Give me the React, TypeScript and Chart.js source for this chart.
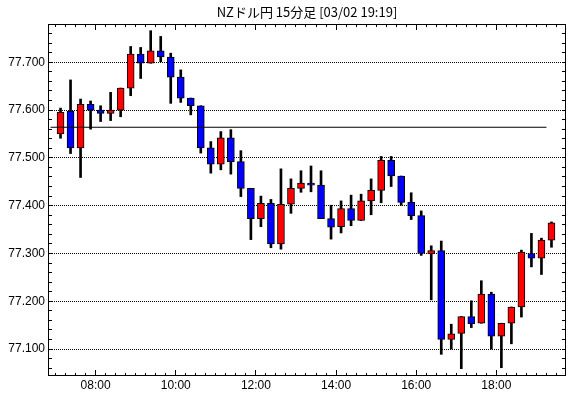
import { useEffect, useRef } from "react";
import { Chart, registerables } from "chart.js";

Chart.register(...registerables);

const TITLE = "NZドル円 15分足 [03/02 19:19]";

const times = [
  "07:00", "07:15", "07:30", "07:45", "08:00", "08:15", "08:30", "08:45", "09:00", "09:15",
  "09:30", "09:45", "10:00", "10:15", "10:30", "10:45", "11:00", "11:15", "11:30", "11:45",
  "12:00", "12:15", "12:30", "12:45", "13:00", "13:15", "13:30", "13:45", "14:00", "14:15",
  "14:30", "14:45", "15:00", "15:15", "15:30", "15:45", "16:00", "16:15", "16:30", "16:45",
  "17:00", "17:15", "17:30", "17:45", "18:00", "18:15", "18:30", "18:45", "19:00", "19:15",
];

const opens = [
  77.550, 77.598, 77.521, 77.612, 77.600, 77.593, 77.600, 77.646, 77.717, 77.698,
  77.724, 77.711, 77.669, 77.625, 77.609, 77.521, 77.487, 77.542, 77.492, 77.436,
  77.373, 77.405, 77.320, 77.403, 77.436, 77.447, 77.443, 77.373, 77.356, 77.394,
  77.369, 77.410, 77.432, 77.495, 77.462, 77.407, 77.379, 77.299, 77.306, 77.120,
  77.133, 77.168, 77.154, 77.215, 77.127, 77.154, 77.188, 77.300, 77.290, 77.328,
];
const highs = [
  77.604, 77.663, 77.623, 77.619, 77.609, 77.637, 77.646, 77.733, 77.731, 77.766,
  77.754, 77.719, 77.684, 77.625, 77.609, 77.534, 77.555, 77.559, 77.515, 77.436,
  77.420, 77.413, 77.477, 77.456, 77.473, 77.483, 77.473, 77.401, 77.410, 77.422,
  77.424, 77.456, 77.503, 77.503, 77.462, 77.427, 77.389, 77.316, 77.326, 77.152,
  77.168, 77.201, 77.243, 77.219, 77.154, 77.188, 77.307, 77.342, 77.332, 77.366,
];
const lows = [
  77.541, 77.509, 77.459, 77.560, 77.576, 77.578, 77.586, 77.630, 77.666, 77.698,
  77.701, 77.614, 77.616, 77.590, 77.510, 77.468, 77.475, 77.466, 77.419, 77.329,
  77.356, 77.312, 77.309, 77.384, 77.428, 77.429, 77.373, 77.330, 77.343, 77.358,
  77.369, 77.381, 77.406, 77.440, 77.401, 77.371, 77.296, 77.203, 77.089, 77.100,
  77.059, 77.145, 77.154, 77.100, 77.061, 77.111, 77.167, 77.272, 77.256, 77.313,
];
const closes = [
  77.595, 77.521, 77.612, 77.600, 77.593, 77.600, 77.646, 77.717, 77.698, 77.724,
  77.711, 77.669, 77.625, 77.609, 77.521, 77.487, 77.542, 77.492, 77.436, 77.373,
  77.405, 77.320, 77.403, 77.436, 77.447, 77.443, 77.373, 77.355, 77.394, 77.369,
  77.410, 77.432, 77.495, 77.462, 77.407, 77.379, 77.300, 77.306, 77.120, 77.132,
  77.168, 77.153, 77.215, 77.127, 77.154, 77.188, 77.303, 77.290, 77.328, 77.364,
];

const refLevel = 77.564;
const refStart = "07:00";
const refEnd = "19:15";

const yTickValues = [77.1, 77.2, 77.3, 77.4, 77.5, 77.6, 77.7];
const xTickLabels = ["08:00", "10:00", "12:00", "14:00", "16:00", "18:00"];

const Y_MIN = 77.0437;
const Y_MAX = 77.78;
const X_MIN = 408.75;
const X_MAX = 1184.25;
const BAR_MINUTES = 15;

const UP_COLOR = "#ff0000";
const DOWN_COLOR = "#0000ff";
const LABEL_FONT = "'Liberation Sans Narrow', 'Liberation Sans', Arial, sans-serif";
const TITLE_FONT = "'Noto Sans CJK JP', 'Noto Sans', sans-serif";

const toMin = (s: string) => {
  const [h, m] = s.split(":").map(Number);
  return h * 60 + m;
};
const fmtMin = (v: number) => {
  const h = Math.floor(v / 60);
  const m = Math.round(v - h * 60);
  return `${String(h).padStart(2, "0")}:${String(m).padStart(2, "0")}`;
};
const centerOf = (s: string) => toMin(s) + BAR_MINUTES / 2;

const framePlugin = {
  id: "frameTicks",
  afterDraw(chart: any) {
    const { ctx, chartArea: a, scales } = chart;
    ctx.save();
    ctx.strokeStyle = "#000";
    ctx.lineWidth = 1;
    ctx.strokeRect(a.left + 0.5, a.top + 0.5, a.right - a.left - 1, a.bottom - a.top - 1);
    ctx.beginPath();
    // x inner ticks (every 15 min, long at labelled hours)
    const xMajor = xTickLabels.map(toMin);
    const start = Math.ceil(scales.x.min / BAR_MINUTES) * BAR_MINUTES;
    for (let t = start; t <= scales.x.max; t += BAR_MINUTES) {
      const x = Math.floor(scales.x.getPixelForValue(t)) + 0.5;
      const len = xMajor.includes(t) ? 6 : 3;
      ctx.moveTo(x, a.bottom);
      ctx.lineTo(x, a.bottom - len);
      ctx.moveTo(x, a.top);
      ctx.lineTo(x, a.top + len);
    }
    // y inner ticks every 0.02
    const k0 = Math.ceil(scales.y.min * 50);
    const k1 = Math.floor(scales.y.max * 50);
    for (let k = k0; k <= k1; k++) {
      const y = Math.floor(scales.y.getPixelForValue(k / 50)) + 0.5;
      const len = 4;
      ctx.moveTo(a.left, y);
      ctx.lineTo(a.left + len, y);
      ctx.moveTo(a.right, y);
      ctx.lineTo(a.right - len, y);
    }
    ctx.stroke();
    // title
    ctx.fillStyle = "#000";
    ctx.font = `13px ${TITLE_FONT}`;
    ctx.textAlign = "center";
    ctx.textBaseline = "middle";
    ctx.fillText(TITLE, (a.left + a.right) / 2, 12);
    ctx.restore();
  },
};

export default function App() {
  const canvasRef = useRef<HTMLCanvasElement | null>(null);

  useEffect(() => {
    if (!canvasRef.current) return;
    const wickData = times.map((t, i) => ({ x: centerOf(t), y: [lows[i], highs[i]] }));
    const bodyData = times.map((t, i) => ({ x: centerOf(t), y: [opens[i], closes[i]] }));
    const bodyColors = times.map((_, i) => (closes[i] >= opens[i] ? UP_COLOR : DOWN_COLOR));

    const chart = new Chart(canvasRef.current, {
      type: "bar",
      data: {
        datasets: [
          {
            type: "line",
            data: [
              { x: toMin(refStart) - 7.5, y: refLevel },
              { x: toMin(refEnd), y: refLevel },
            ],
            borderColor: "#000",
            borderWidth: 1,
            pointRadius: 0,
            order: 0,
          } as any,
          {
            data: bodyData as any,
            backgroundColor: bodyColors,
            borderColor: "#000",
            borderWidth: 1,
            borderSkipped: false,
            barThickness: 7,
            grouped: false,
            order: 1,
          },
          {
            data: wickData as any,
            backgroundColor: "#000",
            borderWidth: 0,
            barThickness: 2,
            grouped: false,
            order: 2,
          },
        ],
      },
      options: {
        animation: false,
        responsive: false,
        devicePixelRatio: 1,
        events: [],
        layout: { padding: { top: 24, right: 4, left: 0, bottom: 0 } },
        plugins: {
          legend: { display: false },
          title: { display: false },
          tooltip: { enabled: false },
        },
        scales: {
          x: {
            type: "linear",
            min: X_MIN,
            max: X_MAX,
            offset: false,
            grid: { display: false, drawTicks: false, offset: false },
            border: { display: false },
            afterBuildTicks: (scale: any) => {
              scale.ticks = xTickLabels.map((s) => ({ value: toMin(s) }));
            },
            afterFit: (scale: any) => {
              scale.height = 22;
            },
            ticks: {
              autoSkip: false,
              maxRotation: 0,
              padding: 2,
              color: "#000",
              font: { family: LABEL_FONT, size: 12 },
              callback: (v: any) => fmtMin(Number(v)),
            },
          },
          y: {
            type: "linear",
            min: Y_MIN,
            max: Y_MAX,
            grid: { color: "#000", lineWidth: 1, drawTicks: false },
            border: { display: false, dash: [1, 1] },
            afterBuildTicks: (scale: any) => {
              scale.ticks = yTickValues.map((v) => ({ value: v }));
            },
            afterFit: (scale: any) => {
              scale.width = 48;
            },
            ticks: {
              autoSkip: false,
              padding: 3,
              color: "#000",
              font: { family: LABEL_FONT, size: 12 },
              callback: (v: any) => Number(v).toFixed(3),
            },
          },
        },
      } as any,
      plugins: [framePlugin],
    });
    return () => chart.destroy();
  }, []);

  return (
    <div style={{ position: "fixed", left: 0, top: 0, width: 570, height: 398, background: "#fff" }}>
      <canvas ref={canvasRef} width={570} height={398} style={{ display: "block", width: 570, height: 398 }} />
    </div>
  );
}
